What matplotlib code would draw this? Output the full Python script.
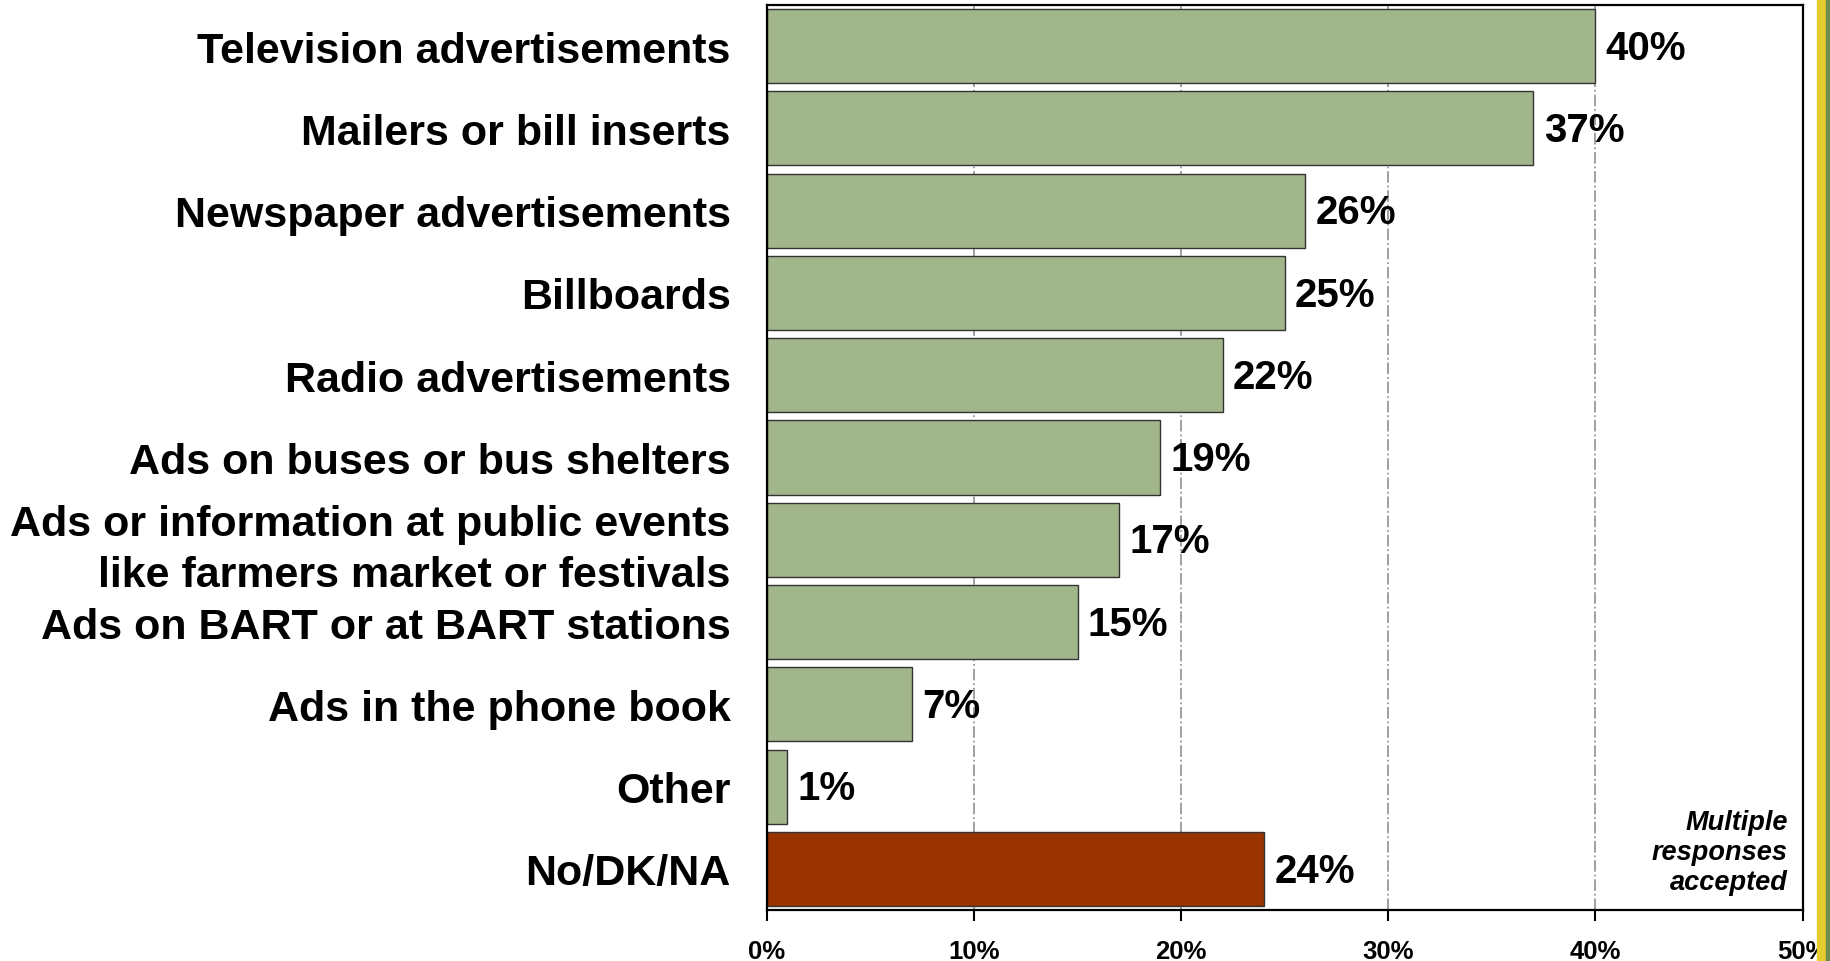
import matplotlib.pyplot as plt
from matplotlib.patches import Rectangle

# Data
categories = [
    'Television advertisements',
    'Mailers or bill inserts',
    'Newspaper advertisements',
    'Billboards',
    'Radio advertisements',
    'Ads on buses or bus shelters',
    'Ads or information at public events\nlike farmers market or festivals',
    'Ads on BART or at BART stations',
    'Ads in the phone book',
    'Other',
    'No/DK/NA',
]
values = [40, 37, 26, 25, 22, 19, 17, 15, 7, 1, 24]
bar_colors = ['#A1B68B'] * 10 + ['#993300']
x_ticks = [0, 10, 20, 30, 40, 50]
x_tick_labels = ['0%', '10%', '20%', '30%', '40%', '50%']
note = 'Multiple\nresponses\naccepted'

plt.rcParams['font.family'] = ['Liberation Sans', 'DejaVu Sans']

fig = plt.figure(figsize=(18.3, 9.62), dpi=100)
ax = fig.add_axes([0.419, 0.053, 0.566, 0.9408])

ypos = list(range(len(categories)))
ax.barh(ypos, values, height=0.9, color=bar_colors, edgecolor='#333333',
        linewidth=1.0, zorder=2)

for y, v in zip(ypos, values):
    ax.text(v + 0.5, y + 0.02, f'{v}%', va='center', ha='left', fontsize=29,
            fontweight='bold', zorder=3)

ax.set_xlim(0, 50)
ax.set_ylim(len(categories) - 0.5, -0.5)
ax.set_yticks(ypos)
ax.set_yticklabels(categories, fontsize=31, fontweight='bold',
                   linespacing=1.35)
ax.tick_params(axis='y', length=0, pad=26)
ax.set_xticks(x_ticks)
ax.set_xticklabels(x_tick_labels, fontsize=18.5, fontweight='bold')
ax.tick_params(axis='x', length=8, width=1.5, direction='out', pad=13)

ax.xaxis.grid(True, linestyle='-.', color='#999999', linewidth=1.3, zorder=0)
ax.set_axisbelow(True)
for s in ax.spines.values():
    s.set_linewidth(1.6)
    s.set_color('black')

ax.text(0.9855, 0.017, note, transform=ax.transAxes, ha='right', va='bottom',
        fontsize=19.5, fontweight='bold', fontstyle='italic', linespacing=1.2)

# decorative strip at the right edge
fig.patches.append(Rectangle((1817 / 1830, 0), 9 / 1830, 1,
                             transform=fig.transFigure, color='#E5CC2E'))
fig.patches.append(Rectangle((1826 / 1830, 0), 4 / 1830, 1,
                             transform=fig.transFigure, color='#6B8E4E'))

plt.savefig('out.png', dpi=100)
plt.close()
